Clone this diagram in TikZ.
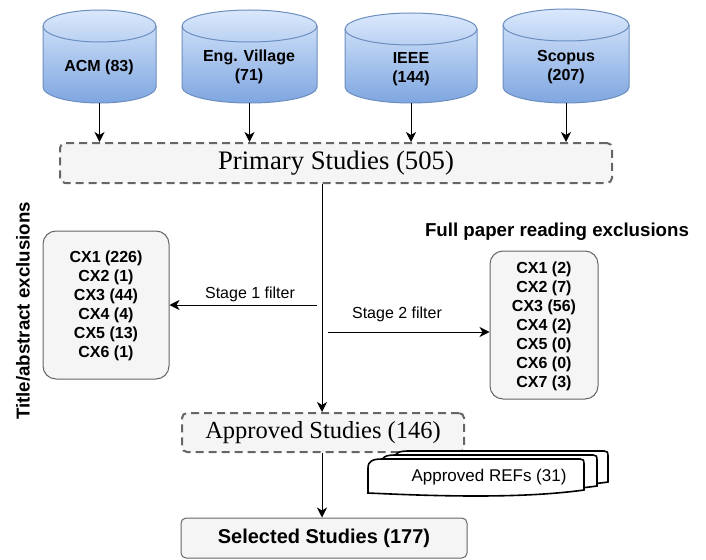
\documentclass[tikz,border=0pt]{standalone}
\usepackage{fontspec}
\setmainfont{Liberation Serif}
\setsansfont{Liberation Sans}
\usetikzlibrary{arrows.meta}
\definecolor{cylTop}{HTML}{DAE8FC}
\definecolor{cylBot}{HTML}{7EA6E0}
\definecolor{cylLine}{HTML}{6C8EBF}
\definecolor{boxFill}{HTML}{F5F5F5}
\definecolor{boxLine}{HTML}{666666}
% name, cx, rx, ytop, ybot
\newcommand\dbcyl[5]{%
  \path[top color=cylTop, bottom color=cylBot, draw=cylLine, line width=1pt]
    ({#2-#3},{-(#4+16)}) arc[start angle=180,end angle=0,x radius=#3,y radius=16]
    -- ({#2+#3},{-(#5-16)}) arc[start angle=0,end angle=-180,x radius=#3,y radius=16] -- cycle;
  \draw[cylLine, line width=1pt] ({#2-#3},{-(#4+16)}) arc[start angle=180,end angle=360,x radius=#3,y radius=16];
  \coordinate (#1b) at (#2,-#5);
}
% L, R, T, B
\newcommand\refpage[4]{%
  \draw[refline]
    (#1,{-(#3+9)}) .. controls (#1,{-(#3+2)}) and ({#1+5},{-#3}) .. ({#1+14},{-#3})
    -- ({#2-4},{-#3}) .. controls ({#2-1},{-#3}) and (#2,{-(#3+1)}) .. (#2,{-(#3+5)})
    -- (#2,{-(#4-3)})
    .. controls ({#2-0.3*(#2-#1)},{-(#4+6)}) and ({#1+0.3*(#2-#1)},{-(#4+3)}) .. (#1,{-#4})
    -- cycle;
}
\tikzset{
  x=1pt, y=1pt,
  cyltxt/.style={font=\fontsize{16}{19}\selectfont\sffamily\bfseries, align=center},
  arr/.style={line width=1pt, -{Stealth[length=10pt,width=10pt,inset=3pt]}},
  dashbox/.style={draw=boxLine, fill=boxFill, line width=2pt, dash pattern=on 8pt off 5pt, rounded corners=5pt, inner sep=0pt},
  cxbox/.style={draw=boxLine, fill=boxFill, line width=1pt, rounded corners=13pt, inner sep=0pt},
  cxtxt/.style={font=\fontsize{16}{19}\selectfont\sffamily\bfseries, align=center},
  lbl/.style={font=\fontsize{16}{19}\selectfont\sffamily},
  headtxt/.style={font=\fontsize{18.7}{22}\selectfont\sffamily\bfseries},
  refline/.style={draw=black, fill=white, line width=1.6pt},
}
\begin{document}
\begin{tikzpicture}
\useasboundingbox (0,0) rectangle (706,-559);
% databases
\dbcyl{acm}{99.5}{56.5}{10}{103}
\dbcyl{eng}{249.5}{67.5}{10}{103}
\dbcyl{ieee}{411}{66}{13}{103}
\dbcyl{sco}{566}{63}{9}{103}
\node[cyltxt] (acm) at (99,-67) {ACM (83)};
\node[cyltxt] (eng) at (249,-67) {Eng. Village\\(71)};
\node[cyltxt] (ieee) at (411,-69) {IEEE\\(144)};
\node[cyltxt] (sco) at (566,-67) {Scopus\\(207)};
% primary
\node[dashbox, minimum width=552pt, minimum height=40pt, font=\fontsize{26.7}{30}\selectfont\rmfamily] (prim) at (336,-163) {Primary Studies (505)};
\foreach \c in {acmb,engb,ieeeb,scob} \draw[arr] (\c) -- (\c |- prim.north);
% approved & selected
\node[dashbox, minimum width=282pt, minimum height=39pt, font=\fontsize{24.5}{28}\selectfont\rmfamily] (appr) at (323,-432.5) {Approved Studies (146)};
\node[draw=boxLine, fill=boxFill, line width=1pt, rounded corners=5pt, minimum width=286pt, minimum height=40pt, inner sep=0pt, font=\fontsize{20}{24}\selectfont\sffamily\bfseries] (sel) at (324,-538) {Selected Studies (177)};
\coordinate (top) at (322,-184);
\draw[arr] (top) -- (top |- appr.north);
\draw[arr] (appr.south -| top) -- (sel.north -| top);
% exclusion boxes
\node[cxbox, minimum width=126pt, minimum height=148pt] (lbox) at (106,-305) {};
\node[cxtxt] (ltxt) at (106,-306) {CX1 (226)\\CX2 (1)\\CX3 (44)\\CX4 (4)\\CX5 (13)\\CX6 (1)};
\node[cxbox, minimum width=108pt, minimum height=148pt] (rbox) at (544,-325) {};
\node[cxtxt] (rtxt) at (544,-326.5) {CX1 (2)\\CX2 (7)\\CX3 (56)\\CX4 (2)\\CX5 (0)\\CX6 (0)\\CX7 (3)};
\coordinate (s1) at (317,-305);
\coordinate (s2) at (328,-332);
\draw[arr] (s1) -- (s1 -| lbox.east);
\draw[arr] (s2) -- (s2 -| rbox.west);
\node[lbl] (l1) at (250,-294) {Stage 1 filter};
\node[lbl] (l2) at (397,-314) {Stage 2 filter};
\node[headtxt] (fph) at (557,-232) {Full paper reading exclusions};
\node[headtxt, rotate=90] (tah) at (23,-311) {Title/abstract exclusions};
% approved refs (multi-document)
\refpage{394}{608}{451}{485}
\refpage{381}{597}{455}{489}
\refpage{368}{584}{459}{493}
\node[font=\fontsize{17}{20}\selectfont\sffamily] (refs) at (489,-477) {Approved REFs (31)};
\end{tikzpicture}
\end{document}
